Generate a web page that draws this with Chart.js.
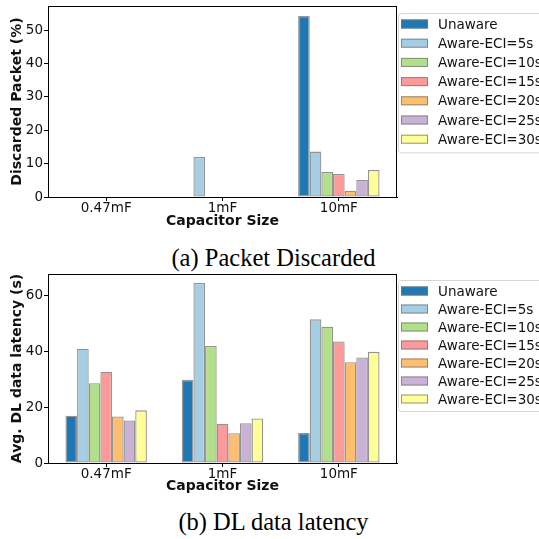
<!DOCTYPE html>
<html>
<head>
<meta charset="utf-8">
<script src="https://cdn.jsdelivr.net/npm/chart.js@4/dist/chart.umd.min.js"></script>
<style>
  body { margin: 0; background: #fff; width: 539px; height: 539px; position: relative; overflow: hidden; }
  canvas { position: absolute; left: 0; }
  .caption { position: absolute; left: 0; width: 539px; text-align: center; font-family: "Liberation Serif", serif; font-size: 24.5px; color: #000; }
</style>
</head>
<body>
<canvas id="discarded" width="539" height="235" style="top:0"></canvas>
<div class="caption" style="top:244px; left:4px">(a) Packet Discarded</div>
<canvas id="latency" width="539" height="233" style="top:268px"></canvas>
<div class="caption" style="top:508px; left:4px">(b) DL data latency</div>
<script>
const categories = ['0.47mF', '1mF', '10mF'];
const seriesNames = ['Unaware', 'Aware-ECI=5s', 'Aware-ECI=10s', 'Aware-ECI=15s',
  'Aware-ECI=20s', 'Aware-ECI=25s', 'Aware-ECI=30s'];
const seriesColors = ['#1f78b4', '#a6cee3', '#b2df8a', '#fb9a99', '#fdbf6f', '#cab2d6', '#ffff99'];

// one row per series, values for 0.47mF / 1mF / 10mF
const discardedPct = [
  [0, 0, 54.2],
  [0, 12.0, 13.6],
  [0, 0, 7.5],
  [0, 0, 6.9],
  [0, 0, 1.9],
  [0, 0, 5.1],
  [0, 0, 8.1]
];
const latencySec = [
  [16.9, 29.7, 10.7],
  [40.8, 64.3, 51.3],
  [28.5, 41.8, 48.7],
  [32.6, 14.0, 43.4],
  [16.6, 10.6, 36.0],
  [15.2, 14.2, 37.7],
  [18.8, 15.9, 39.7]
];

const FONT = 'DejaVu Sans';

// axes frame on all four sides plus a legend box hanging off the right spine
const framePlugin = {
  id: 'frame',
  afterDraw(chart, args, opts) {
    const { ctx, chartArea: a } = chart;
    ctx.save();
    ctx.strokeStyle = '#000';
    ctx.lineWidth = 1;
    ctx.strokeRect(Math.round(a.left) + 0.5, Math.round(a.top) + 0.5,
      Math.round(a.right - a.left) - 1, Math.round(a.bottom - a.top));

    const x0 = a.right + 1, y0 = a.top + opts.top;
    const h = opts.step * 7 + 5;
    ctx.beginPath();
    ctx.roundRect(x0 + 0.5, y0 + 0.5, 200, h, 3);
    ctx.fillStyle = 'rgba(255,255,255,0.9)';
    ctx.fill();
    ctx.strokeStyle = '#d6d6d6';
    ctx.stroke();

    ctx.font = opts.fontSize + 'px "' + FONT + '"';
    ctx.textBaseline = 'middle';
    chart.data.datasets.forEach((ds, i) => {
      const cy = y0 + 11 + i * opts.step;
      ctx.fillStyle = ds.backgroundColor;
      ctx.fillRect(x0 + 3, cy - 4.5, 27, 9);
      ctx.strokeStyle = 'rgba(120,120,120,0.8)';
      ctx.strokeRect(x0 + 3.5, cy - 4, 26, 8);
      ctx.fillStyle = '#111';
      ctx.fillText(ds.label, x0 + 40, cy + 1);
    });
    ctx.restore();
  }
};

function makeChart(id, rows, yMax, yStep, yTitle, xTitlePad, legend) {
  const datasets = rows.map((vals, i) => ({
    label: seriesNames[i],
    data: vals,
    backgroundColor: seriesColors[i],
    borderColor: 'rgba(128,128,128,0.85)',
    borderWidth: 1.3,
    borderSkipped: false,
    categoryPercentage: 0.7,
    barPercentage: 1.0
  }));

  return new Chart(document.getElementById(id), {
    type: 'bar',
    data: { labels: categories, datasets },
    plugins: [framePlugin],
    options: {
      responsive: false,
      animation: false,
      devicePixelRatio: 1,
      layout: { padding: { left: 9, right: 142, top: 6, bottom: 0 } },
      plugins: {
        legend: { display: false },
        tooltip: { enabled: false },
        frame: legend
      },
      scales: {
        x: {
          offset: true,
          afterFit: s => { s.height = 38; s.paddingLeft = 0; s.paddingRight = 0; },
          grid: { offset: false, drawOnChartArea: false, tickLength: 4, color: '#000' },
          border: { color: '#000', width: 1 },
          ticks: { color: '#111', padding: -1, font: { family: FONT, size: 13.5 } },
          title: {
            display: true, text: 'Capacitor Size', color: '#111',
            padding: { top: 0, bottom: xTitlePad },
            font: { family: FONT, size: 14, weight: 'bold' }
          }
        },
        y: {
          min: 0,
          max: yMax,
          afterFit: s => { s.width = 39; s.paddingTop = 0; s.paddingBottom = 0; },
          afterBuildTicks: s => { s.ticks = s.ticks.filter(t => t.value % yStep === 0); },
          grid: { drawOnChartArea: false, tickLength: 4, color: '#000' },
          border: { color: '#000', width: 1 },
          ticks: { stepSize: 10, color: '#111', padding: 1, font: { family: FONT, size: 13.5 } },
          title: {
            display: true, text: yTitle, color: '#111',
            padding: { top: 0, bottom: 0 },
            font: { family: FONT, size: 14, weight: 'bold' }
          }
        }
      }
    }
  });
}

makeChart('discarded', discardedPct, 57.2, 10, 'Discarded Packet (%)', 5,
  { top: 7, step: 19.2, fontSize: 13.5 });
makeChart('latency', latencySec, 67.5, 20, 'Avg. DL data latency (s)', 6,
  { top: 6, step: 18, fontSize: 13.5 });
</script>
</body>
</html>
